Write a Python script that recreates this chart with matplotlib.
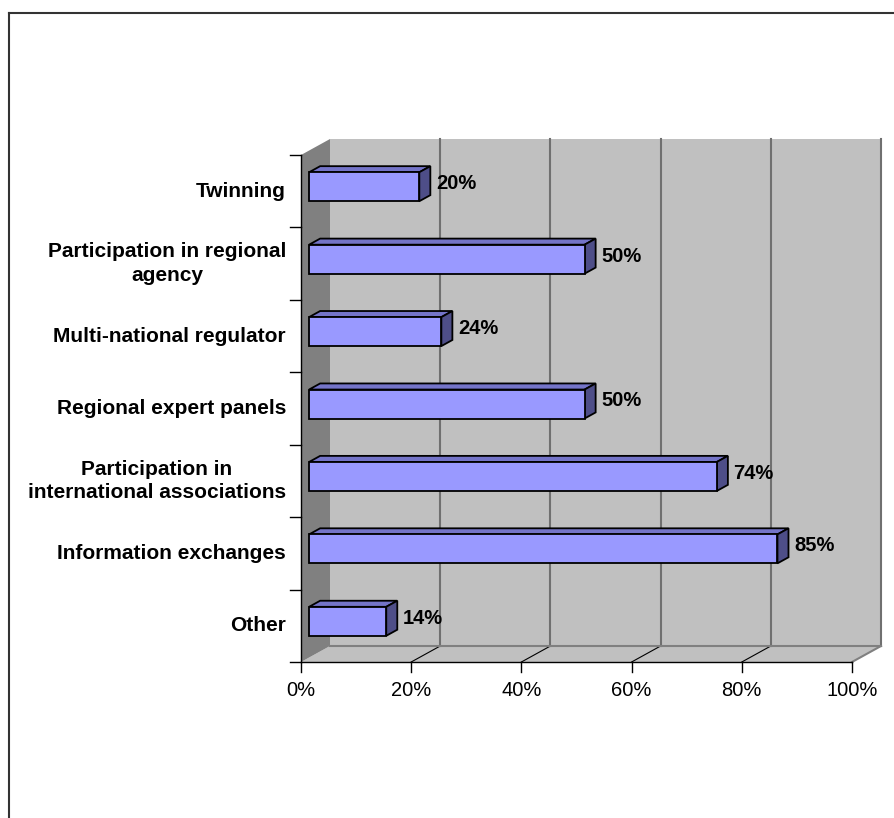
import numpy as np
import matplotlib
matplotlib.use('Agg')
from matplotlib import pyplot as plt
from matplotlib.patches import Polygon
from matplotlib.lines import Line2D

# data, top to bottom as in the chart
categories = ['Twinning', 'Participation in regional\nagency', 'Multi-national regulator',
              'Regional expert panels', 'Participation in\ninternational associations',
              'Information exchanges', 'Other']
values = [20, 50, 24, 50, 74, 85, 14]
xticks = [0, 20, 40, 60, 80, 100]
xticklabels = ['0%', '20%', '40%', '60%', '80%', '100%']

plt.rcParams['font.family'] = ['Liberation Sans', 'DejaVu Sans']

fig = plt.figure(figsize=(8.95, 8.18), dpi=100)
W, H = 895, 818
# front plane of the 3d box, in pixels
left, right, top, bottom = 301, 852, 155, 662
ax = fig.add_axes([left / W, 1 - bottom / H, (right - left) / W, (bottom - top) / H])
ax.set_xlim(0, 100)
ax.set_ylim(0, len(categories))
ax.axis('off')

# depth of the box (29 px right, 16 px up) in data units
dx = 29 / (right - left) * 100
dy = 16 / (bottom - top) * len(categories)
n = len(categories)

def poly(pts, fc, ec='none', lw=1.0, z=1):
    ax.add_patch(Polygon(pts, closed=True, facecolor=fc, edgecolor=ec, lw=lw,
                         zorder=z, clip_on=False, joinstyle='miter'))

# back wall, floor, left wall
poly([(dx, dy), (100 + dx, dy), (100 + dx, n + dy), (dx, n + dy)], '#C0C0C0', z=0)
poly([(0, 0), (100, 0), (100 + dx, dy), (dx, dy)], '#C0C0C0', z=0)
poly([(0, 0), (dx, dy), (dx, n + dy), (0, n)], '#808080', z=0)

# gridlines on back wall and floor
for t in xticks:
    if t > 0:
        ax.plot([t + dx, t + dx], [dy, n + dy], color='#707070', lw=1.5, zorder=0.5, clip_on=False)
    if 0 < t < 100:
        ax.plot([t, t + dx], [0, dy], color='black', lw=0.8, zorder=0.5, clip_on=False)
ax.plot([100, 100 + dx], [0, dy], color='#808080', lw=1.5, zorder=0.5, clip_on=False)
ax.plot([dx, 100 + dx], [dy, dy], color='#808080', lw=1.5, zorder=0.5, clip_on=False)

# axes lines and ticks
ax.plot([0, 0], [0, n], color='black', lw=1, clip_on=False, zorder=3)
ax.plot([0, 100], [0, 0], color='black', lw=1, clip_on=False, zorder=3)
tick_dx = 11 / (right - left) * 100
tick_dy = 10 / (bottom - top) * n
for k in range(n + 1):
    ax.plot([-tick_dx, 0], [k, k], color='black', lw=1, clip_on=False, zorder=3)
for t, lab in zip(xticks, xticklabels):
    ax.plot([t, t], [0, -tick_dy], color='black', lw=1, clip_on=False, zorder=3)
    ax.text(t, -0.4, lab, ha='center', va='center', fontsize=14.5, color='black')

# 3d bars
f0, f1 = 0.28, 0.66
half = 0.2
for i, (cat, v) in enumerate(zip(categories, values)):
    c = n - i - 0.5
    x0, y0 = f0 * dx, c - half + f0 * dy
    x1, y1 = v + f0 * dx, c + half + f0 * dy
    bx, by = (f1 - f0) * dx, (f1 - f0) * dy
    poly([(x0, y1), (x1, y1), (x1 + bx, y1 + by), (x0 + bx, y1 + by)], '#7474C8', 'black', 1.3, 2)
    poly([(x1, y0), (x1, y1), (x1 + bx, y1 + by), (x1 + bx, y0 + by)], '#4E4E88', 'black', 1.3, 2)
    poly([(x0, y0), (x1, y0), (x1, y1), (x0, y1)], '#9999FF', 'black', 1.3, 2)
    ax.text(x1 + bx + 1.0, c + 0.47 * dy, f'{v}%', ha='left', va='center',
            fontsize=14.5, fontweight='bold', color='black')
    ax.text(-2.7, c, cat, ha='right', va='center', multialignment='center',
            fontsize=15, fontweight='bold', color='black', linespacing=1.3)

# chart frame (top and left edges visible)
fig.add_artist(Line2D([9 / W, 1], [1 - 13 / H, 1 - 13 / H], color='#333333', lw=1.5))
fig.add_artist(Line2D([9 / W, 9 / W], [1 - 13 / H, 0], color='#333333', lw=1.5))

plt.savefig('out.png', dpi=100)
